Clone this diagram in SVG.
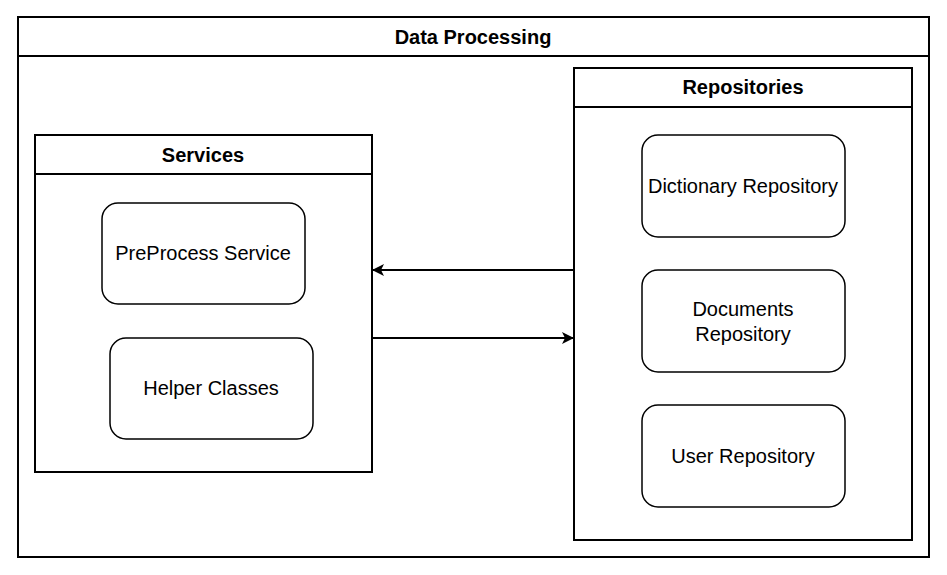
<svg xmlns="http://www.w3.org/2000/svg" width="947" height="575" viewBox="0 0 947 575">
<style>
.box{fill:#fff;stroke:#000;stroke-width:2}
.node{fill:#fff;stroke:#000;stroke-width:1.5}
.t{font-family:"Liberation Sans",Arial,sans-serif;font-size:20px;fill:#000;text-anchor:middle}
.b{font-weight:bold;font-size:20px}
.c{stroke:#000;stroke-width:2;fill:none}
</style>
<defs>
<marker id="arr" viewBox="0 0 12 12" refX="11" refY="6" markerWidth="12" markerHeight="12" markerUnits="userSpaceOnUse" orient="auto">
<path d="M0,0 L12,6 L0,12 L3,6 Z" fill="#000"/>
</marker>
</defs>
<rect width="947" height="575" fill="#fff"/>
<g id="data-processing">
<rect class="box" x="18" y="17" width="911" height="540"/>
<line class="box" x1="18" y1="56" x2="929" y2="56"/>
<text class="t b" x="473" y="44">Data Processing</text>
</g>
<g id="services">
<rect class="box" x="35" y="135" width="337" height="337"/>
<line class="box" x1="35" y1="174" x2="372" y2="174"/>
<text class="t b" x="203" y="162">Services</text>
</g>
<g id="repositories">
<rect class="box" x="574" y="68" width="338" height="472"/>
<line class="box" x1="574" y1="107" x2="912" y2="107"/>
<text class="t b" x="743" y="94">Repositories</text>
</g>
<g id="preprocess">
<rect class="node" x="102" y="203" width="203" height="101" rx="16"/>
<text class="t" x="203" y="260">PreProcess Service</text>
</g>
<g id="helper">
<rect class="node" x="110" y="338" width="203" height="101" rx="16"/>
<text class="t" x="211" y="395">Helper Classes</text>
</g>
<g id="dictionary">
<rect class="node" x="642" y="135" width="203" height="102" rx="16"/>
<text class="t" x="743" y="193">Dictionary Repository</text>
</g>
<g id="documents">
<rect class="node" x="642" y="270" width="203" height="102" rx="16"/>
<text class="t" x="743" y="316">Documents</text>
<text class="t" x="743" y="341">Repository</text>
</g>
<g id="user">
<rect class="node" x="642" y="405" width="203" height="102" rx="16"/>
<text class="t" x="743" y="463">User Repository</text>
</g>
<g id="connectors">
<line class="c" x1="574" y1="270" x2="373" y2="270" marker-end="url(#arr)"/>
<line class="c" x1="372" y1="338" x2="573" y2="338" marker-end="url(#arr)"/>
</g>
</svg>
